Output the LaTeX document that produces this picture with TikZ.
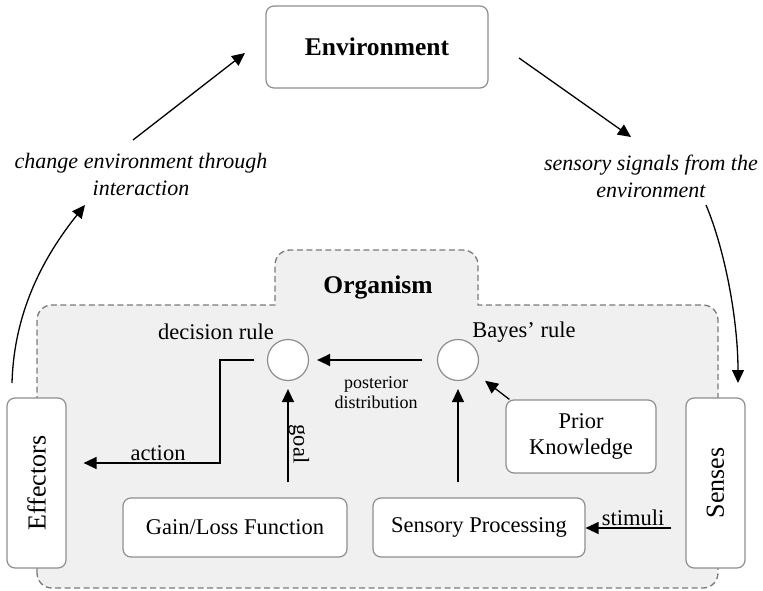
\documentclass[tikz,border=0pt]{standalone}
\usepackage{fontspec}
\usepackage{graphicx}
\setmainfont{Liberation Serif}
\usetikzlibrary{arrows.meta,calc}
\definecolor{boxgray}{HTML}{8E8E8E}
\definecolor{orggray}{HTML}{7A7A7A}
\definecolor{orgfill}{HTML}{F0F0F0}
\begin{document}
\begin{tikzpicture}[x=1pt,y=-1pt,
  box/.style={draw=boxgray, line width=1.2pt, rounded corners=8pt, fill=white,
    align=center, inner sep=0pt, font=\fontsize{22.5}{26}\selectfont},
  headbox/.style={box, font=\fontsize{25.5}{30}\selectfont\bfseries},
  sidebox/.style={box, minimum width=59pt, minimum height=170pt, font=\fontsize{26}{30}\selectfont},
  rulecirc/.style={circle, draw=boxgray, line width=1.2pt, fill=white, minimum size=41pt, inner sep=0pt},
  arr/.style={-{Triangle[length=13pt,width=12pt]}, line width=1.3pt, black},
  lbl/.style={inner sep=0pt, align=center, font=\fontsize{22.5}{26}\selectfont},
  smalllbl/.style={inner sep=0pt, align=center, font=\fontsize{18}{20}\selectfont},
  caption/.style={inner sep=0pt, align=center, font=\fontsize{22}{27}\selectfont\itshape},
  organism/.style={draw=orggray, fill=orgfill, line width=1.3pt, dash pattern=on 6pt off 3.5pt}
]
\useasboundingbox (0,0) rectangle (763,591);

% Organism region
\path[organism] (37,573) -- (37,320) .. controls (37,311.7) and (43.7,305) .. (52,305)
  -- (275,305) -- (275,265) .. controls (275,256.7) and (281.7,250) .. (290,250)
  -- (463,250) .. controls (471.3,250) and (478,256.7) .. (478,265)
  -- (478,305) -- (703,305) .. controls (711.3,305) and (718,311.7) .. (718,320)
  -- (718,573) .. controls (718,581.3) and (711.3,588) .. (703,588)
  -- (52,588) .. controls (43.7,588) and (37,581.3) .. (37,573) -- cycle;
\node[inner sep=0pt, font=\fontsize{25.5}{30}\selectfont\bfseries] (orgtitle) at (378,287) {Organism};

% Nodes
\node[headbox, minimum width=222pt, minimum height=82pt] (env) at (377,47) {Environment};
\node[sidebox] (eff) at (36.5,483) {\rotatebox{90}{Effectors}};
\node[sidebox] (sen) at (715.5,483) {\rotatebox{90}{Senses}};
\node[box, minimum width=224pt, minimum height=59pt] (gain) at (235,527.5) {Gain/Loss Function};
\node[box, minimum width=212pt, minimum height=59pt] (sp) at (479,527.5) {Sensory Processing};
\node[box, minimum width=150pt, minimum height=73pt] (prior) at (581,436.5) {Prior\\Knowledge};
\node[rulecirc] (dec) at (288,360) {};
\node[rulecirc] (bay) at (458,360) {};
\node[lbl] (declbl) at (216,332) {decision rule};
\node[lbl] (baylbl) at (524,332) {Bayes' rule};

% Captions
\node[caption] (cap1) at (141,174) {change environment through\\interaction};
\node[caption] (cap2) at (651,176) {sensory signals from the\\environment};

% Free connector ends
\coordinate (l0) at (12,383);
\coordinate (l1) at (85,205);
\coordinate (u0) at (133,140);
\coordinate (u1) at (245,53);
\coordinate (r0) at (519,58);
\coordinate (r1) at (631,137);
\coordinate (s0) at (706,205);
\coordinate (s1) at (738,383);
\coordinate (ac) at (220,463);

% Connectors
\draw[arr] (l0) .. controls (14,310) and (45,255) .. (l1);
\draw[arr] (u0) -- (u1);
\draw[arr] (r0) -- (r1);
\draw[arr] (s0) .. controls (725,250) and (738,320) .. (s1);

\draw[arr, shorten <=14.5pt, shorten >=8pt] (bay.west) -- (dec.east);
\node[smalllbl] (post) at (376,393) {posterior\\distribution};

\draw[arr, shorten <=12.5pt, shorten >=17pt] (dec.west) -| (ac) -- (ac -| eff.east);
\node[lbl, anchor=south] (actlbl) at (158,461) {action};

\draw[arr, shorten <=15pt, shorten >=8pt] (dec |- gain.north) -- (dec.south);
\node[lbl, rotate=-90] (goallbl) at (299,444) {goal};

\draw[arr, shorten <=15pt, shorten >=8pt] (bay |- sp.north) -- (bay.south);

\draw[arr, shorten >=13pt] ($(prior.north west)+(4,0)$) -- (bay);

\draw[arr, shorten <=14pt] (sen.west |- 0,528) -- (sp.east |- 0,528);
\node[lbl, anchor=south] (stimlbl) at (633,526) {stimuli};
\end{tikzpicture}
\end{document}
